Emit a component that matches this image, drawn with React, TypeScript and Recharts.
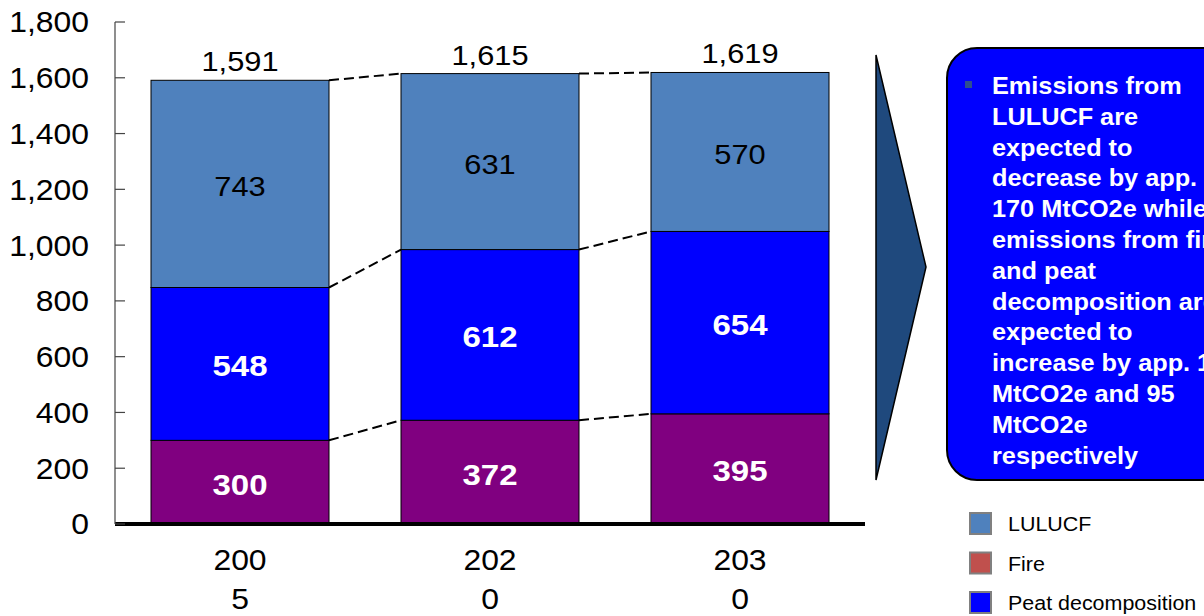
import React from 'react';
import { BarChart, Bar, XAxis, YAxis, LabelList } from 'recharts';

const categories = ['2005', '2020', '2030'];
const fire = [300, 372, 395];
const peat = [548, 612, 654];
const lulucf = [743, 631, 570];
const yTicks = [0, 200, 400, 600, 800, 1000, 1200, 1400, 1600, 1800];

const legendNames = ['LULUCF', 'Fire', 'Peat decomposition'];
const legendColors = ['#4F81BD', '#C0504D', '#0000FF'];

const calloutLines = [
  'Emissions from',
  'LULUCF are',
  'expected to',
  'decrease by app.',
  '170 MtCO2e while',
  'emissions from fire',
  'and peat',
  'decomposition are',
  'expected to',
  'increase by app. 105',
  'MtCO2e and 95',
  'MtCO2e',
  'respectively',
];

const FONT = '"Liberation Sans", Arial, sans-serif';
const GAP = 0.144; // barCategoryGap as a fraction of the band
const SX = 1.1; // the original text is a bit wide

const data = categories.map((c, i) => ({
  name: c,
  fire: fire[i],
  peat: peat[i],
  lulucf: lulucf[i],
  total: fire[i] + peat[i] + lulucf[i],
}));

// stacked tops, used by the dashed connectors
const fireTop = fire;
const peatTop = fire.map((f, i) => f + peat[i]);
const lulucfTop = peatTop.map((p, i) => p + lulucf[i]);

const fmt = (v: number) => v.toLocaleString('en-US');

// wide text helper
const WText = ({ x, y, anchor = 'middle', size, bold, fill = '#000', children }: any) => (
  <g transform={`translate(${x},${y}) scale(${SX},1)`}>
    <text
      x={0}
      y={0}
      textAnchor={anchor}
      dominantBaseline="central"
      fontSize={size}
      fontWeight={bold ? 'bold' : 'normal'}
      fontFamily={FONT}
      fill={fill}
    >
      {children}
    </text>
  </g>
);

const YTick = ({ x, y, payload }: any) => (
  <g>
    <line x1={x} y1={y} x2={x + 10} y2={y} stroke="#444" strokeWidth={1.2} />
    <WText x={x - 26} y={y} anchor="end" size={29}>{fmt(payload.value)}</WText>
  </g>
);

const XTick = ({ x, y, payload }: any) => {
  const s = String(payload.value);
  return (
    <g>
      <WText x={x} y={y + 36} size={29}>{s.slice(0, 3)}</WText>
      <WText x={x} y={y + 75} size={29}>{s.slice(3)}</WText>
    </g>
  );
};

// bar segment + dashed line from its top right corner to the same level of the next bar
const segShape = (values: number[], tops: number[]) => (props: any) => {
  const { x, y, width, height, fill, payload } = props;
  const i = categories.indexOf(payload.name);
  const k = height / values[i];
  const band = width / (1 - 2 * GAP);
  return (
    <g>
      <rect x={x} y={y} width={width} height={height} fill={fill} stroke="#000" strokeWidth={1} />
      {i < categories.length - 1 && (
        <line
          x1={x + width}
          y1={y}
          x2={x + band}
          y2={y + (tops[i] - tops[i + 1]) * k}
          stroke="#000"
          strokeWidth={2}
          strokeDasharray="10 5"
        />
      )}
    </g>
  );
};

const segLabel = (color: string, bold: boolean) => (props: any) => {
  const { x, y, width, height, value } = props;
  return (
    <WText x={x + width / 2} y={y + height / 2 + 2} size={bold ? 30 : 28} bold={bold} fill={color}>
      {value}
    </WText>
  );
};

const totalLabel = (props: any) => {
  const { x, y, width, value } = props;
  return <WText x={x + width / 2} y={y - 19} size={28}>{fmt(value)}</WText>;
};

export default function App() {
  return (
    <div style={{ position: 'absolute', left: 0, top: 0, width: 1204, height: 616, overflow: 'hidden', background: '#fff' }}>
      <BarChart
        width={1204}
        height={616}
        data={data}
        margin={{ top: 22, right: 339, bottom: 32, left: 0 }}
        barCategoryGap={`${GAP * 100}%`}
      >
        <XAxis
          dataKey="name"
          height={60}
          axisLine={{ stroke: '#000', strokeWidth: 4 }}
          tickLine={false}
          tickSize={0}
          tickMargin={0}
          tick={<XTick />}
        />
        <YAxis
          width={115}
          domain={[0, 1800]}
          ticks={yTicks}
          interval={0}
          tickSize={0}
          tickMargin={0}
          tickLine={false}
          axisLine={{ stroke: '#444', strokeWidth: 1.2 }}
          tick={<YTick />}
        />
        <Bar dataKey="fire" name="Fire" stackId="a" fill="#800080" shape={segShape(fire, fireTop)} isAnimationActive={false}>
          <LabelList dataKey="fire" content={segLabel('#fff', true)} />
        </Bar>
        <Bar dataKey="peat" name="Peat decomposition" stackId="a" fill="#0000FF" shape={segShape(peat, peatTop)} isAnimationActive={false}>
          <LabelList dataKey="peat" content={segLabel('#fff', true)} />
        </Bar>
        <Bar dataKey="lulucf" name="LULUCF" stackId="a" fill="#4F81BD" shape={segShape(lulucf, lulucfTop)} isAnimationActive={false}>
          <LabelList dataKey="lulucf" content={segLabel('#000', false)} />
          <LabelList dataKey="total" content={totalLabel} />
        </Bar>
      </BarChart>

      <svg width={1204} height={616} style={{ position: 'absolute', left: 0, top: 0, pointerEvents: 'none' }}>
        <polygon points="876,55 926,267 876,480" fill="#1F497D" stroke="#000" strokeWidth={1.5} />
        <rect x={947} y={48} width={320} height={432} rx={30} fill="#0000FF" stroke="#000" strokeWidth={2} />
        <rect x={965} y={81} width={7} height={7} fill="#2F4F8F" />
        <g transform={`translate(992,0) scale(${SX},1)`}>
          <text fontSize={23} fontWeight="bold" fontFamily={FONT} fill="#fff">
            {calloutLines.map((l, i) => (
              <tspan key={l + i} x={0} y={94 + i * 30.8}>{l}</tspan>
            ))}
          </text>
        </g>
        {legendNames.map((n, i) => (
          <g key={n}>
            <rect x={970} y={513 + i * 39.5} width={21} height={21} fill={legendColors[i]} stroke="#808080" strokeWidth={2} />
            <WText x={1008} y={524 + i * 39.5} anchor="start" size={19.5}>{n}</WText>
          </g>
        ))}
      </svg>
    </div>
  );
}
